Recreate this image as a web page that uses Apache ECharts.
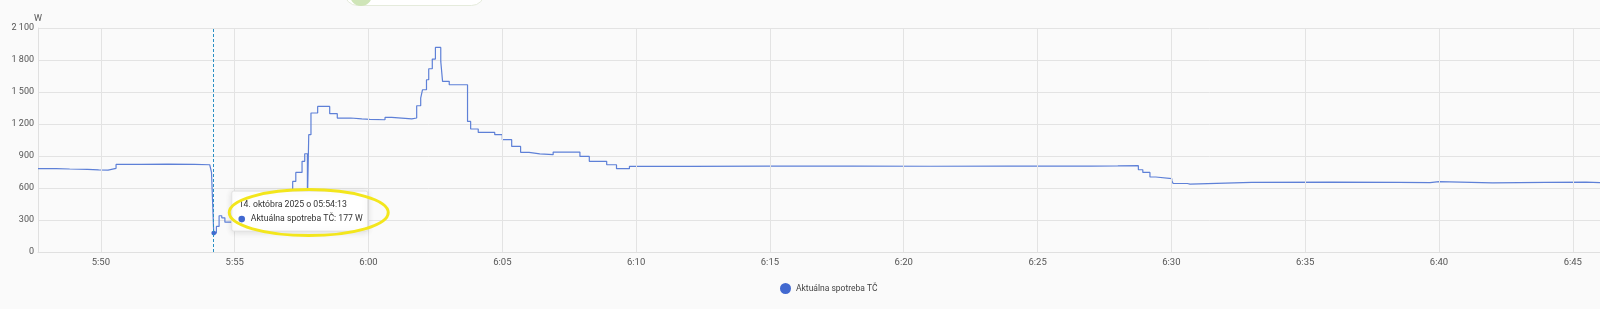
<!DOCTYPE html>
<html>
<head>
<meta charset="utf-8">
<script src="https://cdn.jsdelivr.net/npm/echarts@6/dist/echarts.min.js"></script>
<style>
html,body{margin:0;padding:0;background:#fafafa;}
#c{width:1600px;height:309px;}
</style>
</head>
<body>
<div id="c"></div>
<script>
// ---- data (14. 10. 2025) ----
const seriesName = 'Aktuálna spotreba TČ';
const unit = 'W';
const day = [2025, 9, 14];
const times = [
 '05:47:39','05:48:20','05:48:50','05:49:30','05:49:55','05:50:16','05:50:34','05:51:30','05:52:30','05:53:30',
 '05:54:04','05:54:08','05:54:12','05:54:13','05:54:19','05:54:25','05:54:31','05:54:38','05:55:10','05:55:40',
 '05:56:10','05:56:30','05:56:50','05:57:05','05:57:10','05:57:17','05:57:31','05:57:37','05:57:43','05:57:46',
 '05:57:51','05:58:06','05:58:33','05:58:50','05:59:20','05:59:45','06:00:03','06:00:37','06:00:52','06:01:37',
 '06:01:48','06:01:57','06:02:01','06:02:10','06:02:15','06:02:23','06:02:30','06:02:42','06:02:46','06:03:01',
 '06:03:42','06:03:49','06:04:06','06:04:43','06:05:00','06:05:21','06:05:41','06:06:00','06:06:24','06:06:54',
 '06:07:54','06:08:15','06:08:54','06:09:16','06:09:45','06:12:00','06:15:00','06:18:00','06:21:00','06:24:00',
 '06:27:00','06:28:00','06:28:46','06:28:56','06:29:12','06:29:25','06:30:01','06:30:04','06:30:36','06:30:42',
 '06:33:00','06:36:00','06:38:30','06:39:40','06:40:00','06:42:00','06:44:00','06:45:30','06:46:01'
];
const values = [
 781,778,775,770,767,784,821,824,821,818,
 800,746,731,177,240,340,320,280,290,300,
 330,420,520,584,662,746,850,921,450,1100,
 1303,1365,1297,1256,1248,1244,1240,1262,1248,1256,
 1371,1443,1521,1615,1718,1809,1918,1787,1600,1568,
 1224,1153,1121,1100,1053,990,934,920,912,937,
 896,850,818,781,803,805,806,804,806,805,
 807,809,771,746,703,687,668,642,636,653,
 655,652,650,660,648,652,655,650,655
];
const yTicks = [0,300,600,900,1200,1500,1800,2100];
const xTicks = ['05:50','05:55','06:00','06:05','06:10','06:15','06:20','06:25','06:30','06:35','06:40','06:45'];
const xRange = ['05:47:39','06:46:01'];
const highlightTime = '05:54:13';
const monthGen = 'októbra';

// ---- build ----
function ts(t){const p=t.split(':').map(Number);return new Date(day[0],day[1],day[2],p[0],p[1],p[2]||0).getTime();}
const data = times.map((t,i)=>[ts(t), values[i]]);
const xTickVals = xTicks.map(ts);
const fmtNum = v => String(v).replace(/\B(?=(\d{3})+(?!\d))/g,' ');
const fmtTime = v => {const d=new Date(v);return d.getHours()+':'+String(d.getMinutes()).padStart(2,'0');};
const hiIdx = times.indexOf(highlightTime);
const lineColor = '#4269d0';
const gridColor = '#e3e3e3';
const fontFam = 'Roboto, "Noto Sans", sans-serif';

const chart = echarts.init(document.getElementById('c'), null, {renderer:'canvas'});
chart.setOption({
  animation:false,
  backgroundColor:'#fafafa',
  textStyle:{fontFamily:fontFam},
  grid:{left:38, right:0, top:28, bottom:57, containLabel:false},
  legend:{
    data:[seriesName], left:775, top:278, icon:'circle', itemWidth:11, itemHeight:11, itemGap:4,
    textStyle:{fontSize:8.5, color:'#444', fontFamily:fontFam}
  },
  tooltip:{trigger:'axis', triggerOn:'none', showContent:false,
    axisPointer:{type:'line', lineStyle:{color:'#2a8fc4', width:1, type:[3,2]}}},
  xAxis:{
    type:'value', min:ts(xRange[0]), max:ts(xRange[1]), scale:true,
    axisLine:{show:true, lineStyle:{color:'#e0e0e0'}},
    axisTick:{show:false, customValues:xTickVals},
    splitLine:{show:false},
    axisLabel:{customValues:xTickVals, formatter:fmtTime, color:'#555', fontSize:9.5, margin:6}
  },
  yAxis:{
    type:'value', min:yTicks[0], max:yTicks[yTicks.length-1], interval:yTicks[1]-yTicks[0],
    name:unit, nameGap:5, nameTextStyle:{align:'left', color:'#555', fontSize:9, padding:[0,0,0,-4]},
    axisLine:{show:true, lineStyle:{color:'#e0e0e0'}},
    axisTick:{show:false},
    splitLine:{show:true, lineStyle:{color:gridColor}},
    axisLabel:{formatter:fmtNum, color:'#555', fontSize:9, margin:4}
  },
  series:[{
    name:seriesName, type:'line', step:'end', data:data, z:3,
    showSymbol:false, symbol:'circle', symbolSize:4,
    color:lineColor, lineStyle:{width:1.2, color:'#5675c4'},
    emphasis:{scale:1.2, itemStyle:{color:lineColor}}
  },{
    name:'_grid', type:'line', data:[], z:1, silent:true, tooltip:{show:false},
    markLine:{silent:true, symbol:['none','none'], label:{show:false}, animation:false,
      lineStyle:{color:gridColor, type:'solid', width:1},
      emphasis:{disabled:true},
      data:xTickVals.map(v=>({xAxis:v}))}
  }]
});

const pt = chart.convertToPixel({seriesIndex:0}, data[hiIdx]);
const bx = pt[0]+18, by = pt[1]-42;
const d = new Date(data[hiIdx][0]);
const pad = n => String(n).padStart(2,'0');
const tipTitle = `${d.getDate()}. ${monthGen} ${d.getFullYear()} o ${pad(d.getHours())}:${pad(d.getMinutes())}:${pad(d.getSeconds())}`;
const tipLine = `${seriesName}: ${fmtNum(values[hiIdx])} ${unit}`;

chart.setOption({
  graphic:[
    {type:'rect', left:344, top:-22, shape:{width:140, height:27, r:13},
     style:{fill:'#ffffff', stroke:'#e5ebdc', lineWidth:1}, z:50},
    {type:'circle', shape:{cx:361, cy:-5, r:11}, style:{fill:'#cfe5b8'}, z:51},
    {type:'group', x:bx, y:by, z:100, children:[
      {type:'rect', shape:{x:0, y:0, width:136, height:40, r:2},
       style:{fill:'#ffffff', stroke:'#e2e2e2', lineWidth:1, shadowBlur:6, shadowColor:'rgba(0,0,0,0.12)', shadowOffsetY:1}, z:100},
      {type:'text', x:7, y:14, style:{text:tipTitle, fill:'#333', font:'8.7px '+fontFam, textVerticalAlign:'middle'}, z:101},
      {type:'circle', shape:{cx:10, cy:28, r:3.3}, style:{fill:lineColor}, z:101},
      {type:'text', x:19, y:28, style:{text:tipLine, fill:'#333', font:'8.7px '+fontFam, textVerticalAlign:'middle'}, z:101}
    ]},
    {type:'ellipse', shape:{cx:bx+77, cy:by+21.5, rx:79.5, ry:23},
     style:{fill:null, stroke:'#f3e61c', lineWidth:3}, z:120}
  ]
});
chart.dispatchAction({type:'showTip', seriesIndex:0, dataIndex:hiIdx});
</script>
</body>
</html>
